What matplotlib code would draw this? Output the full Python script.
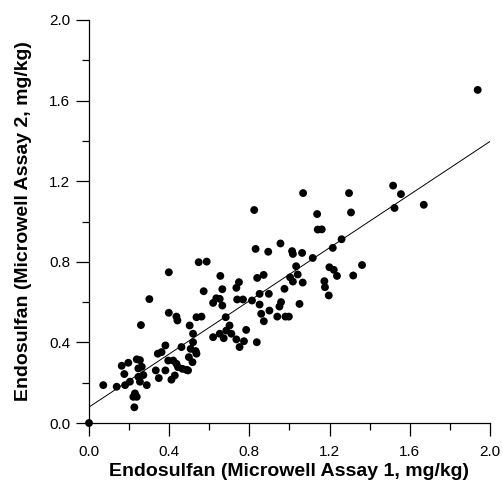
import matplotlib
matplotlib.use("Agg")
import matplotlib.pyplot as plt
import numpy as np
from matplotlib.ticker import MultipleLocator, FormatStrFormatter

plt.rcParams['font.family'] = ['Liberation Sans', 'DejaVu Sans']

assay1 = [0.0, 0.071, 0.138, 0.163, 0.176, 0.18, 0.196, 0.204, 0.238, 0.254, 0.246, 0.263,
          0.246, 0.271, 0.254, 0.288, 0.229, 0.238, 0.221, 0.226, 0.259, 0.301,
          0.333, 0.348, 0.343, 0.362, 0.381, 0.381, 0.395, 0.411, 0.420, 0.428, 0.436, 0.444,
          0.461, 0.466, 0.486, 0.494, 0.498, 0.507, 0.516, 0.519, 0.532, 0.536,
          0.398, 0.398, 0.436, 0.441, 0.502, 0.519, 0.536, 0.561, 0.547, 0.587, 0.572,
          0.619, 0.619, 0.635, 0.655, 0.665, 0.652, 0.665, 0.652, 0.672, 0.682, 0.701, 0.710,
          0.685, 0.735, 0.748, 0.739, 0.735, 0.751, 0.773, 0.768, 0.784, 0.813, 0.824, 0.831,
          0.837, 0.839, 0.851, 0.851, 0.871, 0.859, 0.872, 0.894, 0.897, 0.900, 0.955, 0.939,
          0.958, 0.950, 0.975, 0.980, 0.997, 1.003, 1.013, 1.017, 1.017, 1.033, 1.041, 1.050,
          1.063, 1.068, 1.066, 1.116, 1.138, 1.141, 1.161, 1.174, 1.177, 1.196, 1.199, 1.216,
          1.221, 1.237, 1.260, 1.297, 1.307, 1.318, 1.362, 1.517, 1.524, 1.556, 1.670, 1.939]
assay2 = [0.0, 0.188, 0.18, 0.284, 0.243, 0.188, 0.299, 0.205, 0.316, 0.312, 0.271, 0.279,
          0.229, 0.238, 0.205, 0.188, 0.147, 0.130, 0.130, 0.078, 0.486, 0.615,
          0.261, 0.223, 0.344, 0.352, 0.385, 0.261, 0.310, 0.215, 0.310, 0.236, 0.294, 0.277,
          0.377, 0.269, 0.264, 0.261, 0.327, 0.368, 0.302, 0.401, 0.357, 0.344,
          0.748, 0.547, 0.528, 0.509, 0.484, 0.443, 0.525, 0.528, 0.798, 0.801, 0.654,
          0.426, 0.596, 0.619, 0.730, 0.664, 0.616, 0.583, 0.443, 0.421, 0.525, 0.484, 0.443,
          0.459, 0.671, 0.699, 0.613, 0.415, 0.377, 0.406, 0.613, 0.462, 0.608, 1.057, 0.864,
          0.401, 0.720, 0.588, 0.641, 0.735, 0.542, 0.505, 0.850, 0.641, 0.558, 0.891, 0.528,
          0.600, 0.578, 0.666, 0.528, 0.528, 0.723, 0.853, 0.839, 0.702, 0.778, 0.737, 0.591,
          0.844, 1.141, 0.697, 0.819, 1.037, 0.960, 0.961, 0.704, 0.674, 0.633, 0.773, 0.869,
          0.760, 0.730, 0.912, 1.141, 1.045, 0.732, 0.784, 1.178, 1.067, 1.136, 1.083, 1.653]

fit_slope = 0.659
fit_intercept = 0.079

fig = plt.figure(figsize=(5.03, 4.83), dpi=100)
ax = fig.add_axes([0.177, 0.1242, 0.797, 0.8344])
ax.scatter(assay1, assay2, s=32, color='black', edgecolors='none', zorder=3, clip_on=False)
xl = np.array([0.0, 2.0])
ax.plot(xl, fit_intercept + fit_slope * xl, color='black', lw=0.7)

ax.set_xlim(0, 2.0)
ax.set_ylim(0, 2.0)
for axis in (ax.xaxis, ax.yaxis):
    axis.set_major_locator(MultipleLocator(0.4))
    axis.set_minor_locator(MultipleLocator(0.2))
    axis.set_major_formatter(FormatStrFormatter('%.1f'))
ax.spines['top'].set_visible(False)
ax.spines['right'].set_visible(False)
ax.spines['left'].set_linewidth(0.9)
ax.spines['bottom'].set_linewidth(0.9)
ax.tick_params(which='major', direction='out', length=9.5, width=0.9, labelsize=11)
ax.tick_params(which='minor', direction='out', length=5, width=0.9)
ax.tick_params(axis='y', which='major', pad=4)
ax.tick_params(axis='x', which='major', pad=6.5)
ax.set_xlabel('Endosulfan (Microwell Assay 1, mg/kg)', fontsize=14, fontweight='bold')
ax.set_ylabel('Endosulfan (Microwell Assay 2, mg/kg)', fontsize=14, fontweight='bold')
ax.xaxis.set_label_coords(0.5, -0.099)
ax.yaxis.set_label_coords(-0.142, 0.5)

fig.savefig('out.png', dpi=100)
